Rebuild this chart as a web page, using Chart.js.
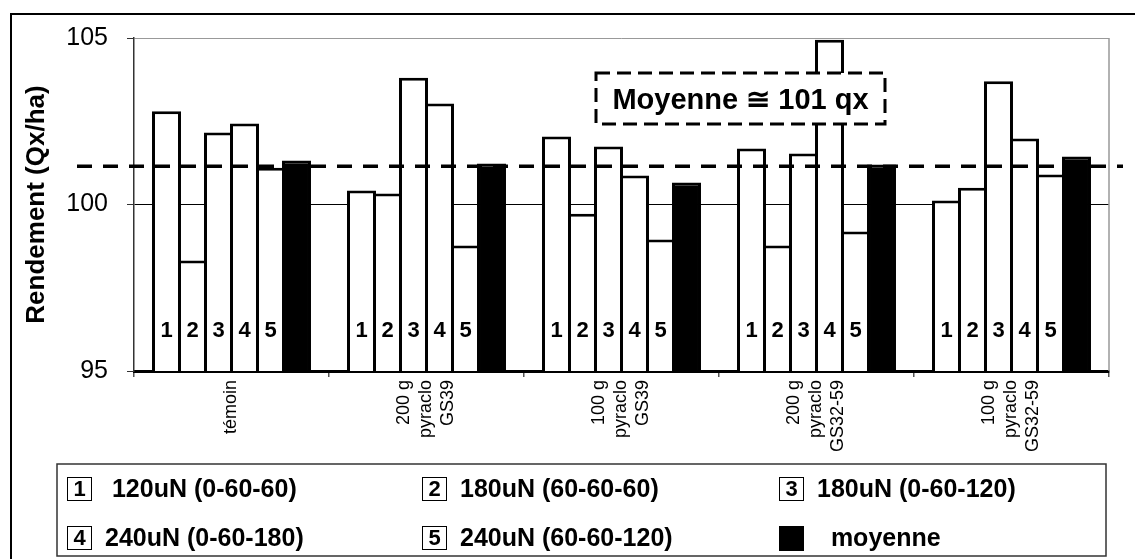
<!DOCTYPE html>
<html>
<head>
<meta charset="utf-8">
<script src="https://cdn.jsdelivr.net/npm/chart.js@4.4.1/dist/chart.umd.min.js"></script>
<style>
  html, body { margin: 0; padding: 0; background: #fff; }
  canvas { display: block; }
</style>
</head>
<body>
<canvas id="rendement" width="1135" height="559"></canvas>
<script>
// data

const categories = ['témoin', ['200 g', 'pyraclo', 'GS39'], ['100 g', 'pyraclo', 'GS39'], ['200 g', 'pyraclo', 'GS32-59'], ['100 g', 'pyraclo', 'GS32-59']];

const seriesTags = ['1', '2', '3', '4', '5', ''];
const seriesLabels = [' 120uN (0-60-60)', '180uN (60-60-60)', '180uN (0-60-120)', '240uN (0-60-180)', '240uN (60-60-120)', '  moyenne'];

const n120 = [102.80, 100.42, 102.04, 101.68, 100.12];      // 120uN (0-60-60)
const n180a = [98.32, 100.33, 99.72, 98.77, 100.50];        // 180uN (60-60-60)
const n180b = [102.16, 103.81, 101.74, 101.53, 103.70];     // 180uN (0-60-120)
const n240a = [102.43, 103.03, 100.87, 104.95, 101.98];     // 240uN (0-60-180)
const n240b = [101.10, 98.77, 98.95, 99.19, 100.90];        // 240uN (60-60-120)
const moyenne = [101.32, 101.23, 100.66, 101.20, 101.44];   // moyenne

const yTicks = [95, 100, 105];
const meanValue = 101.15;
const meanText = 'Moyenne \u2245 101 qx';
const tagLevel = 96.2; // where the 1..5 numbers sit inside the bars

//colors and fonts

const black = '#000000';
const grey = '#999999';
const fontFamily = "'Liberation Sans', Arial, Helvetica, sans-serif";
const labelLine = 22; // line height of the category labels

Chart.defaults.font.family = fontFamily;
Chart.defaults.color = black;

const seriesValues = [n120, n180a, n180b, n240a, n240b, moyenne];

const datasets = seriesValues.map((vals, i) => {
    return {
        label: seriesLabels[i],
        data: vals,
        backgroundColor: i === 5 ? black : '#ffffff',
        borderColor: black,
        borderWidth: 3,
        borderSkipped: 'start'
    };
});

//frame, numbers, mean line, note box and legend

const decorPlugin = {
    id: 'decor',
    beforeDraw(chart) {
        const ctx = chart.ctx;
        ctx.save();
        ctx.fillStyle = '#ffffff';
        ctx.fillRect(0, 0, chart.width, chart.height);
        ctx.strokeStyle = black;
        ctx.lineWidth = 2;
        ctx.strokeRect(11, 14, chart.width + 20, chart.height + 20);
        ctx.restore();
    },
    afterDatasetsDraw(chart) {
        const ctx = chart.ctx;
        const area = chart.chartArea;
        const yScale = chart.scales.y;

        ctx.save();

        // plot right border
        ctx.strokeStyle = grey;
        ctx.lineWidth = 1.5;
        ctx.beginPath();
        ctx.moveTo(area.right, area.top);
        ctx.lineTo(area.right, area.bottom);
        ctx.stroke();

        // numbers inside the bars
        ctx.fillStyle = black;
        ctx.font = 'bold 22px ' + fontFamily;
        ctx.textAlign = 'center';
        ctx.textBaseline = 'middle';
        const tagY = yScale.getPixelForValue(tagLevel);
        for (let d = 0; d < 5; d++) {
            chart.getDatasetMeta(d).data.forEach((bar) => {
                ctx.fillText(seriesTags[d], bar.x, tagY);
            });
        }

        // mean dashed line
        const meanY = yScale.getPixelForValue(meanValue);
        ctx.strokeStyle = black;
        ctx.lineWidth = 3.5;
        ctx.setLineDash([15, 11]);
        ctx.beginPath();
        ctx.moveTo(area.left - 57, meanY);
        ctx.lineTo(area.right + 14, meanY);
        ctx.stroke();

        // note box
        const bx = 596, by = 73, bw = 289, bh = 51;
        ctx.setLineDash([]);
        ctx.fillStyle = '#ffffff';
        ctx.fillRect(bx, by, bw, bh);
        ctx.setLineDash([14, 7]);
        ctx.lineWidth = 3;
        ctx.strokeRect(bx, by, bw, bh);
        ctx.setLineDash([]);
        ctx.fillStyle = black;
        ctx.font = 'bold 29px ' + fontFamily;
        ctx.fillText(meanText, bx + bw / 2, by + bh / 2 + 2);

        ctx.restore();
    },
    afterDraw(chart) {
        const ctx = chart.ctx;
        const box = { left: 57, top: 464, right: 1106, bottom: 556 };
        const cols = [67, 422, 779];
        const rows = [489, 538];

        ctx.save();
        ctx.strokeStyle = '#333333';
        ctx.lineWidth = 1.5;
        ctx.strokeRect(box.left, box.top, box.right - box.left, box.bottom - box.top);

        ctx.textBaseline = 'middle';
        seriesLabels.forEach((label, i) => {
            const x = cols[i % 3];
            const y = rows[Math.floor(i / 3)];
            if (seriesTags[i]) {
                ctx.fillStyle = '#ffffff';
                ctx.fillRect(x, y - 12, 25, 24);
                ctx.strokeStyle = black;
                ctx.lineWidth = 1;
                ctx.strokeRect(x + 0.5, y - 11.5, 24, 23);
                ctx.fillStyle = black;
                ctx.font = 'bold 22px ' + fontFamily;
                ctx.textAlign = 'center';
                ctx.fillText(seriesTags[i], x + 12.5, y + 1);
            } else {
                ctx.fillStyle = black;
                ctx.fillRect(x, y - 12, 25, 25);
            }
            ctx.fillStyle = black;
            ctx.font = 'bold 25px ' + fontFamily;
            ctx.textAlign = 'left';
            ctx.fillText(label, x + 38, y + 1);
        });
        ctx.restore();
    }
};

const ctxBar = document.getElementById('rendement');

const rendementChart = new Chart(ctxBar, {
    type: 'bar',
    data: {
        labels: categories,
        datasets: datasets
    },
    options: {
        responsive: false,
        animation: false,
        devicePixelRatio: 1,
        layout: {
            padding: { left: 0, top: 38, right: 26, bottom: 0 }
        },
        datasets: {
            bar: { categoryPercentage: 0.8, barPercentage: 1.115 }
        },
        plugins: {
            legend: { display: false },
            tooltip: { enabled: false }
        },
        scales: {
            x: {
                z: 1,
                grid: { drawOnChartArea: false, drawTicks: true, tickLength: 6, color: '#555555', lineWidth: 1.5, offset: true },
                border: { display: true, color: black, width: 3 },
                ticks: {
                    autoSkip: false,
                    minRotation: 90,
                    maxRotation: 90,
                    padding: 3,
                    labelOffset: -labelLine,
                    font: { size: 18, lineHeight: labelLine + 'px' },
                    callback: function (value) {
                        const l = categories[value];
                        return Array.isArray(l) ? l : ['', l, ''];
                    }
                },
                afterFit: (scale) => { scale.height = 559 - 371; }
            },
            y: {
                min: 95,
                max: 105,
                afterBuildTicks: (scale) => { scale.ticks = yTicks.map((v) => ({ value: v })); },
                grid: {
                    color: (c) => (c.tick && c.tick.value === 100 ? black : grey),
                    tickColor: '#333333',
                    tickLength: 7,
                    lineWidth: 1
                },
                border: { color: '#333333', width: 1.5 },
                ticks: { padding: 19, font: { size: 25 } },
                title: {
                    display: true,
                    text: 'Rendement (Qx/ha)',
                    font: { size: 26, weight: 'bold' },
                    padding: { top: 21, bottom: 0 }
                },
                afterFit: (scale) => { scale.width = 134; }
            }
        }
    },
    plugins: [decorPlugin]
});
</script>
</body>
</html>
